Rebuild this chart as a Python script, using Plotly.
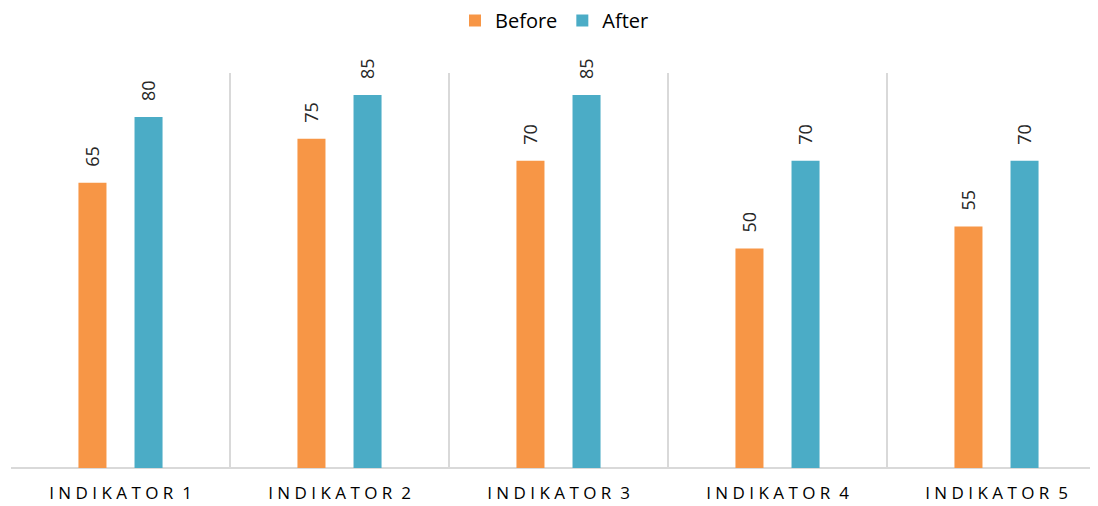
import plotly.graph_objects as go

categories = ["INDIKATOR 1", "INDIKATOR 2", "INDIKATOR 3", "INDIKATOR 4", "INDIKATOR 5"]
before = [65, 75, 70, 50, 55]
after = [80, 85, 85, 70, 70]

ORANGE = "#F79646"
TEAL = "#4BACC6"
TXT = "#262626"

def spaced(s):
    return " ".join(list(s)).replace("   ", "  ")

xs = list(range(len(categories)))
W = 0.128

fig = go.Figure()
fig.add_trace(go.Bar(name="Before", x=xs, y=before, width=W, offset=-1.5 * W,
                     marker=dict(color=ORANGE, line=dict(width=0))))
fig.add_trace(go.Bar(name="After", x=xs, y=after, width=W, offset=0.5 * W,
                     marker=dict(color=TEAL, line=dict(width=0))))

annotations = []
for i in xs:
    for val, dx in ((before[i], -W), (after[i], W)):
        annotations.append(dict(x=i + dx, y=val, xref="x", yref="y", text=str(val),
                                textangle=-90, showarrow=False, yanchor="bottom",
                                yshift=14, font=dict(size=18, color=TXT,
                                                     family="Open Sans")))

fig.update_layout(
    width=1090, height=498,
    margin=dict(l=3, r=0, t=65, b=38, autoexpand=False),
    paper_bgcolor="white", plot_bgcolor="white",
    barmode="overlay",
    showlegend=True,
    legend=dict(orientation="h", x=0.5, xanchor="center", y=1 + 72 / 395, yanchor="top",
                font=dict(size=20, color="#000000", family="Open Sans"),
                itemwidth=30, traceorder="normal", tracegroupgap=0),
    xaxis=dict(range=[-0.5, -0.5 + 1087 / 219], tickvals=xs,
               ticktext=[spaced(c) for c in categories],
               tickfont=dict(size=17, color="#000000", family="Open Sans"),
               ticklabelstandoff=13, automargin=False,
               showgrid=False, zeroline=False, showline=False, ticks="",
               minor=dict(tickvals=[x - 0.5 for x in xs], showgrid=True,
                          gridcolor="#D9D9D9", gridwidth=2, ticks=""),
               fixedrange=True),
    yaxis=dict(range=[0, 90], showgrid=False, showticklabels=False, automargin=False,
               zeroline=True, zerolinecolor="#D9D9D9", zerolinewidth=2,
               showline=False, ticks=""),
    annotations=annotations,
)

fig.write_html("out.html")
